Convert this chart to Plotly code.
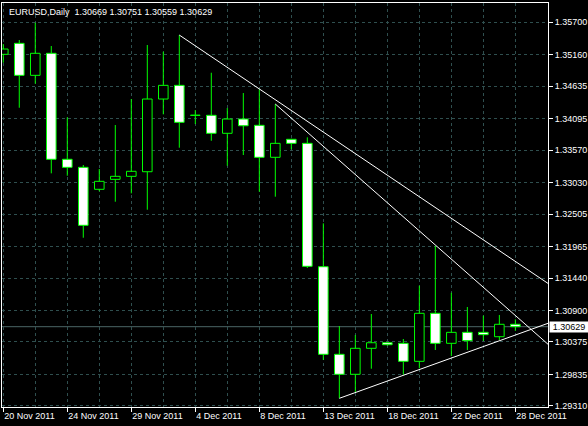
import plotly.graph_objects as go

# ---------------- data ----------------
dates = ["20 Nov 2011", "21 Nov 2011", "22 Nov 2011", "23 Nov 2011", "24 Nov 2011",
         "25 Nov 2011", "27 Nov 2011", "28 Nov 2011", "29 Nov 2011", "30 Nov 2011",
         "1 Dec 2011", "2 Dec 2011", "4 Dec 2011", "5 Dec 2011", "6 Dec 2011",
         "7 Dec 2011", "8 Dec 2011", "9 Dec 2011", "11 Dec 2011", "12 Dec 2011",
         "13 Dec 2011", "14 Dec 2011", "15 Dec 2011", "16 Dec 2011", "18 Dec 2011",
         "19 Dec 2011", "20 Dec 2011", "21 Dec 2011", "22 Dec 2011", "23 Dec 2011",
         "26 Dec 2011", "27 Dec 2011", "28 Dec 2011"]

open_ = [1.35167, 1.35350, 1.34817, 1.35184, 1.33418, 1.33284, 1.32918, 1.33084, 1.33134,
         1.33211, 1.34422, 1.34650, 1.34153, 1.34151, 1.33851, 1.34089, 1.33984, 1.33451,
         1.33751, 1.33684, 1.31628, 1.30169, 1.29836, 1.30269, 1.30362, 1.30352, 1.30052,
         1.30852, 1.30352, 1.30535, 1.30535, 1.30462, 1.30669]
high = [1.35338, 1.35405, 1.35693, 1.35305, 1.34117, 1.33323, 1.33256, 1.33989, 1.34422,
        1.35322, 1.35210, 1.35488, 1.34239, 1.34860, 1.34272, 1.34522, 1.34584, 1.34339,
        1.33760, 1.33784, 1.32351, 1.30640, 1.30490, 1.30840, 1.30376, 1.30424, 1.31312,
        1.31973, 1.31195, 1.30957, 1.30813, 1.30824, 1.30751]
low = [1.35027, 1.34277, 1.34677, 1.33184, 1.33144, 1.32111, 1.32884, 1.32711, 1.32851,
       1.32578, 1.34167, 1.33611, 1.34006, 1.33727, 1.33311, 1.33489, 1.32878, 1.32795,
       1.33584, 1.31607, 1.30074, 1.29436, 1.29541, 1.29929, 1.30315, 1.29830, 1.29936,
       1.30241, 1.30141, 1.30241, 1.30391, 1.30407, 1.30559]
close = [1.35255, 1.34817, 1.35184, 1.33418, 1.33284, 1.32318, 1.33051, 1.33134, 1.33218,
         1.34422, 1.34650, 1.34034, 1.34150, 1.33851, 1.34089, 1.33977, 1.33451, 1.33684,
         1.33684, 1.31635, 1.30169, 1.29836, 1.30269, 1.30362, 1.30329, 1.30052, 1.30852,
         1.30352, 1.30535, 1.30396, 1.30496, 1.30669, 1.30629]

price_ticks = [1.35700, 1.35160, 1.34635, 1.34095, 1.33570, 1.33030, 1.32505,
               1.31965, 1.31440, 1.30900, 1.30375, 1.29835, 1.29310]
date_tick_idx = [0, 4, 8, 12, 16, 20, 24, 28, 32]

last_price = 1.30629
title_text = "EURUSD,Daily\u00a0\u00a01.30669 1.30751 1.30559 1.30629"

# trend lines: two anchor points (bar index, price), extended to the right edge
trend_a = [(11, 1.35488), (16, 1.34590)]
trend_b = [(17, 1.34339), (27, 1.31990)]
trend_c = [(21, 1.29436), (32, 1.30490)]

# ---------------- styling ----------------
X_RANGE = [-0.08, 34.04]
Y_RANGE = [1.29291, 1.36022]
LIME = "#00FF00"
GRID = "#2F4F4F"
FONT = "Liberation Sans, Arial, sans-serif"

idx = list(range(len(dates)))

fig = go.Figure()

# wicks (split so they don't cross black bodies)
wx, wy = [], []
for i, (o, h, l, c) in enumerate(zip(open_, high, low, close)):
    top, bot = max(o, c), min(o, c)
    wx += [i, i, None, i, i, None]
    wy += [h, top, None, bot, l, None]
fig.add_trace(go.Scatter(x=wx, y=wy, mode="lines", line=dict(color=LIME, width=1),
                         hoverinfo="skip", showlegend=False))

# bodies
base = [min(o, c) for o, c in zip(open_, close)]
height = [abs(c - o) for o, c in zip(open_, close)]
fills = ["#000000" if c > o else "#FFFFFF" for o, c in zip(open_, close)]
fig.add_trace(go.Bar(x=idx, y=height, base=base, width=0.6,
                     marker=dict(color=fills, line=dict(color=LIME, width=1)),
                     hoverinfo="skip", showlegend=False))

# trend lines
for (x1, p1), (x2, p2) in (trend_a, trend_b, trend_c):
    slope = (p2 - p1) / (x2 - x1)
    xe = X_RANGE[1]
    fig.add_trace(go.Scatter(x=[x1, xe], y=[p1, p1 + slope * (xe - x1)], mode="lines",
                             line=dict(color="#FFFFFF", width=1),
                             hoverinfo="skip", showlegend=False))

# last price line
fig.add_shape(type="line", xref="paper", x0=0, x1=1, yref="y", y0=last_price, y1=last_price,
              line=dict(color="#4A6666", width=1), layer="below")

fig.add_annotation(xref="paper", x=1, xanchor="left", xshift=1, yref="y", y=last_price,
                   text=f"{last_price:.5f}", showarrow=False, bgcolor="#FFFFFF",
                   font=dict(color="#000000", size=9, family=FONT),
                   width=38, height=10, borderpad=0, align="center")

fig.add_annotation(xref="paper", yref="paper", x=0.009, y=0.978, xanchor="left", yanchor="middle",
                   text=title_text, showarrow=False,
                   font=dict(color="#FFFFFF", size=9, family=FONT))

fig.update_layout(
    width=588, height=426,
    margin=dict(l=2, r=40, t=3, b=19),
    paper_bgcolor="#000000", plot_bgcolor="#000000",
    showlegend=False, barmode="overlay",
    font=dict(family=FONT, size=9, color="#FFFFFF"),
    xaxis=dict(
        range=X_RANGE, tickmode="array", tickvals=date_tick_idx,
        ticktext=[dates[i] for i in date_tick_idx],
        ticks="outside", ticklen=4, tickcolor="#FFFFFF",
        ticklabelposition="outside right",
        showline=True, linecolor="#FFFFFF", linewidth=1, mirror=True,
        showgrid=True, gridcolor=GRID, griddash="3px,3px", gridwidth=1,
        minor=dict(tickmode="array", tickvals=[i for i in range(2, 35, 4)],
                   showgrid=True, gridcolor=GRID, griddash="3px,3px", ticks=""),
        zeroline=False, fixedrange=True, automargin=False,
        tickfont=dict(color="#FFFFFF", size=9, family=FONT),
    ),
    yaxis=dict(
        range=Y_RANGE, side="right", tickmode="array", tickvals=price_ticks,
        ticktext=[f"{v:.5f}" for v in price_ticks],
        ticks="outside", ticklen=4, tickcolor="#FFFFFF",
        showline=True, linecolor="#FFFFFF", linewidth=1, mirror=True,
        showgrid=True, gridcolor=GRID, griddash="3px,3px", gridwidth=1,
        zeroline=False, fixedrange=True, automargin=False,
        tickfont=dict(color="#FFFFFF", size=9, family=FONT),
    ),
)

fig.write_html("out.html", config={"displayModeBar": False},
               post_script="document.body.style.margin='0';document.body.style.background='#000';")
